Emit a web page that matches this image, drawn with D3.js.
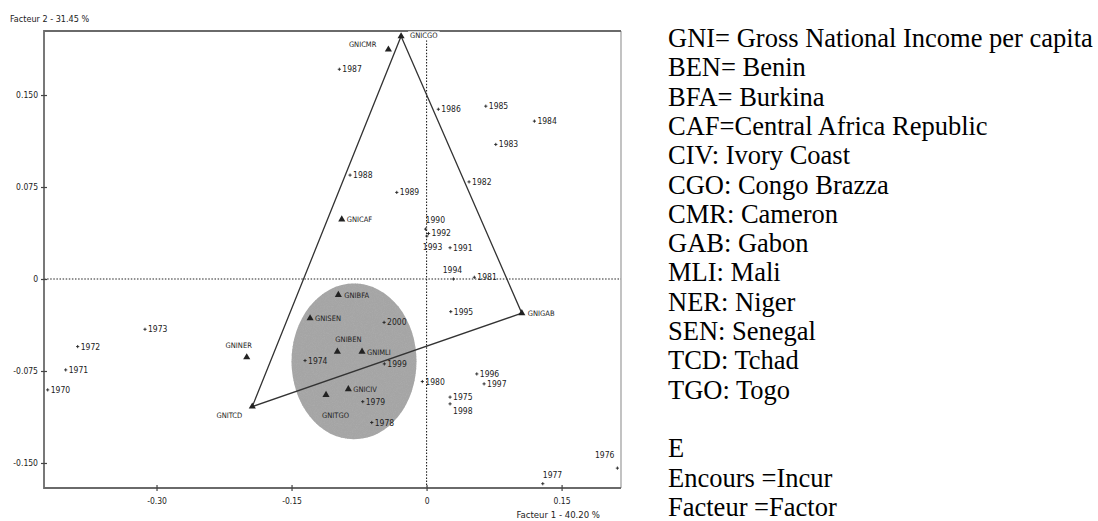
<!DOCTYPE html>
<html>
<head>
<meta charset="utf-8">
<script src="https://cdn.jsdelivr.net/npm/d3@7"></script>
<style>
  html, body { margin: 0; padding: 0; background: #fff; }
  svg { display: block; }
  .small { font-family: "Liberation Sans Narrow", "DejaVu Sans Condensed", "Arial Narrow", sans-serif; fill: #222; }
  .legend { font-family: "Liberation Serif", "Times New Roman", serif; fill: #000; }
</style>
</head>
<body>
<svg id="chart" width="1098" height="521"></svg>
<script>
// Years (supplementary observations) on factors 1 and 2
const years = ["1970","1971","1972","1973","1974","1975","1976","1977","1978","1979",
               "1980","1981","1982","1983","1984","1985","1986","1987","1988","1989",
               "1990","1991","1992","1993","1994","1995","1996","1997","1998","1999","2000"];
const yearF1 = [-0.4209,-0.4009,-0.3876,-0.3128,-0.1350, 0.0261, 0.2120, 0.1291,-0.0609,-0.0709,
                -0.0047, 0.0531, 0.0472, 0.0769, 0.1198, 0.0658, 0.0131,-0.0969,-0.0850,-0.0331,
                -0.0011, 0.0261, 0.0022, 0.0003, 0.0298, 0.0269, 0.0558, 0.0639, 0.0261,-0.0469,-0.0472];
const yearF2 = [-0.0904,-0.0741,-0.0551,-0.0410,-0.0665,-0.0963,-0.1542,-0.1669,-0.1170,-0.1000,
                -0.0836, 0.0014, 0.0792, 0.1097, 0.1287, 0.1409, 0.1384, 0.1710, 0.0847, 0.0706,
                 0.0407, 0.0255, 0.0371, 0.0350, 0.0000,-0.0266,-0.0774,-0.0855,-0.1018,-0.0692,-0.0354];

// Country variables (GNI per capita) on factors 1 and 2
const gniCodes = ["GNICGO","GNICMR","GNICAF","GNIGAB","GNINER","GNITCD",
                  "GNIBFA","GNISEN","GNIBEN","GNIMLI","GNICIV","GNITGO"];
const gniF1 = [-0.0283,-0.0424,-0.0942, 0.1058,-0.1998,-0.1936,
               -0.0980,-0.1294,-0.0991,-0.0717,-0.0869,-0.1117];
const gniF2 = [ 0.1979, 0.1871, 0.0486,-0.0279,-0.0638,-0.1040,
               -0.0130,-0.0320,-0.0592,-0.0592,-0.0898,-0.0945];

// Triangle joining the three extreme countries
const hullCodes = ["GNICGO","GNIGAB","GNITCD"];

// Shaded cluster of countries
const clusterCenter = [-0.0806, -0.0672];
const clusterRadii = [0.0694, 0.0635];

// Axes
const xTicks = [-0.30, -0.15, 0, 0.15];
const xTickLabels = ["-0.30", "-0.15", "0", "0.15"];
const yTicks = [0.150, 0.075, 0, -0.075, -0.150];
const yTickLabels = ["0.150", "0.075", "0", "-0.075", "-0.150"];
const xTitle = "Facteur 1  -  40.20 %";
const yTitle = "Facteur 2  -  31.45 %";

// Key to abbreviations
const legendLines = [
  "GNI= Gross National Income per capita",
  "BEN= Benin",
  "BFA= Burkina",
  "CAF=Central Africa Republic",
  "CIV: Ivory Coast",
  "CGO: Congo Brazza",
  "CMR: Cameron",
  "GAB: Gabon",
  "MLI: Mali",
  "NER: Niger",
  "SEN: Senegal",
  "TCD: Tchad",
  "TGO: Togo",
  "",
  "E",
  "Encours =Incur",
  "Facteur =Factor"
];

// Label placement: [dx, dy, anchor]
const yearLabelPos = {
  "1990": [0, -6, "start"],
  "1993": [-4, 14, "start"],
  "1994": [-1, -6, "middle"],
  "1998": [3, 10, "start"],
  "1977": [0, -6, "start"],
  "1976": [-3, -10, "end"]
};
const gniLabelPos = {
  "GNICGO": [9, 2, "start"],
  "GNICMR": [-12, -3, "end"],
  "GNICAF": [5, 3, "start"],
  "GNIGAB": [6, 3, "start"],
  "GNINER": [-8, -9, "middle"],
  "GNITCD": [-10, 11, "end"],
  "GNIBFA": [6, 3, "start"],
  "GNISEN": [5, 3, "start"],
  "GNIBEN": [-2, -10, "start"],
  "GNIMLI": [5, 3, "start"],
  "GNICIV": [5, 3, "start"],
  "GNITGO": [-4, 23, "start"]
};

const svg = d3.select("#chart");
const W = 1098, H = 521;
const plot = { left: 44, right: 621, top: 31, bottom: 488 };

svg.append("rect").attr("width", W).attr("height", H).attr("fill", "#fff");

const x = d3.scaleLinear().domain([-0.425, 0.216]).range([plot.left, plot.right]);
const y = d3.scaleLinear().domain([-0.1704, 0.2022]).range([plot.bottom, plot.top]);

// Grain texture for the shaded cluster
const defs = svg.append("defs");
const f = defs.append("filter").attr("id", "grain")
  .attr("x", "0").attr("y", "0").attr("width", "100%").attr("height", "100%");
f.append("feTurbulence").attr("type", "fractalNoise").attr("baseFrequency", "1.1")
  .attr("numOctaves", 2).attr("seed", 4).attr("result", "noise");
f.append("feColorMatrix").attr("in", "noise").attr("type", "matrix")
  .attr("values", "0 0 0 0 0.4  0 0 0 0 0.4  0 0 0 0 0.4  0 0 0 -3 1.7")
  .attr("result", "dots");
f.append("feComposite").attr("in", "dots").attr("in2", "SourceGraphic")
  .attr("operator", "in").attr("result", "clipped");
const fm = f.append("feMerge");
fm.append("feMergeNode").attr("in", "SourceGraphic");
fm.append("feMergeNode").attr("in", "clipped");

// Cluster ellipse
svg.append("ellipse")
  .attr("cx", x(clusterCenter[0]))
  .attr("cy", y(clusterCenter[1]))
  .attr("rx", x(clusterCenter[0] + clusterRadii[0]) - x(clusterCenter[0]))
  .attr("ry", y(clusterCenter[1]) - y(clusterCenter[1] + clusterRadii[1]))
  .attr("fill", "#a5a5a5")
  .attr("filter", "url(#grain)");

// Zero reference lines
svg.append("line")
  .attr("x1", plot.left).attr("x2", plot.right)
  .attr("y1", y(0)).attr("y2", y(0))
  .attr("stroke", "#222").attr("stroke-width", 1.1).attr("stroke-dasharray", "1.5,1.6");
svg.append("line")
  .attr("x1", x(0)).attr("x2", x(0))
  .attr("y1", plot.top).attr("y2", plot.bottom)
  .attr("stroke", "#222").attr("stroke-width", 1.1).attr("stroke-dasharray", "1.5,1.6");

// Triangle of extreme countries
const gniIndex = code => gniCodes.indexOf(code);
const hullPts = hullCodes.map(c => [x(gniF1[gniIndex(c)]), y(gniF2[gniIndex(c)])]);
svg.append("path")
  .attr("d", d3.line()(hullPts) + "Z")
  .attr("fill", "none").attr("stroke", "#333").attr("stroke-width", 1.3);

// Frame
svg.append("line").attr("x1", plot.right).attr("x2", plot.right)
  .attr("y1", plot.top).attr("y2", plot.bottom)
  .attr("stroke", "#9a9a9a").attr("stroke-width", 1.2);
svg.append("path")
  .attr("d", `M${plot.right},${plot.top}H${plot.left}V${plot.bottom}H${plot.right}`)
  .attr("fill", "none").attr("stroke", "#6a6a6a").attr("stroke-width", 1.8);

// Axes
const xAxis = d3.axisBottom(x).tickValues(xTicks).tickSize(3)
  .tickFormat((d, i) => xTickLabels[i]);
const gx = svg.append("g").attr("transform", `translate(0,${plot.bottom})`).call(xAxis);
gx.select(".domain").remove();
gx.selectAll(".tick line").attr("y1", -3).attr("y2", 3).attr("stroke", "#444").attr("stroke-width", 1.2);
gx.selectAll(".tick text").attr("class", "small").attr("y", 10).attr("dy", "0.71em")
  .attr("font-size", 8.5);

const yAxis = d3.axisLeft(y).tickValues(yTicks).tickSize(3)
  .tickFormat((d, i) => yTickLabels[i]);
const gy = svg.append("g").attr("transform", `translate(${plot.left},0)`).call(yAxis);
gy.select(".domain").remove();
gy.selectAll(".tick line").attr("x1", -3).attr("x2", 3).attr("stroke", "#444").attr("stroke-width", 1.2);
gy.selectAll(".tick text").attr("class", "small").attr("x", -6).attr("font-size", 8.5);
[gx, gy].forEach(g => g.attr("font-family", null).attr("font-size", null));

// Axis titles
svg.append("text").attr("class", "small").attr("x", 10).attr("y", 22)
  .attr("font-size", 9).text(yTitle);
svg.append("text").attr("class", "small").attr("x", 600).attr("y", 518)
  .attr("text-anchor", "end").attr("font-size", 9.5).text(xTitle);

// Year markers and labels
const yearG = svg.append("g");
years.forEach((yr, i) => {
  const px = x(yearF1[i]), py = y(yearF2[i]);
  yearG.append("path")
    .attr("d", `M${px - 1.6},${py}H${px + 1.6}M${px},${py - 1.6}V${py + 1.6}`)
    .attr("stroke", "#222").attr("stroke-width", 0.9);
  const p = yearLabelPos[yr] || [3, 3, "start"];
  yearG.append("text").attr("class", "small")
    .attr("x", px + p[0]).attr("y", py + p[1])
    .attr("text-anchor", p[2]).attr("font-size", 8.5).text(yr);
});

// Country markers and labels
const gniG = svg.append("g");
const tri = d3.symbol().type(d3.symbolTriangle).size(22);
gniCodes.forEach((code, i) => {
  const px = x(gniF1[i]), py = y(gniF2[i]);
  gniG.append("path").attr("d", tri())
    .attr("transform", `translate(${px},${py})`)
    .attr("fill", "#222");
  const p = gniLabelPos[code] || [5, 3, "start"];
  const t = gniG.append("text").attr("class", "small")
    .attr("x", px + p[0]).attr("y", py + p[1])
    .attr("text-anchor", p[2]).attr("font-size", 7.5).text(code);
  if (code === "GNICGO") {
    const bb = t.node().getBBox();
    gniG.insert("rect", () => t.node())
      .attr("x", bb.x - 2).attr("y", bb.y).attr("width", bb.width + 4).attr("height", bb.height)
      .attr("fill", "#fff");
  }
});

// Abbreviation key
const legend = svg.append("g");
legendLines.forEach((line, i) => {
  legend.append("text").attr("class", "legend")
    .attr("x", 668).attr("y", 47 + i * 29.31)
    .attr("font-size", 26.5).text(line);
});
</script>
</body>
</html>
